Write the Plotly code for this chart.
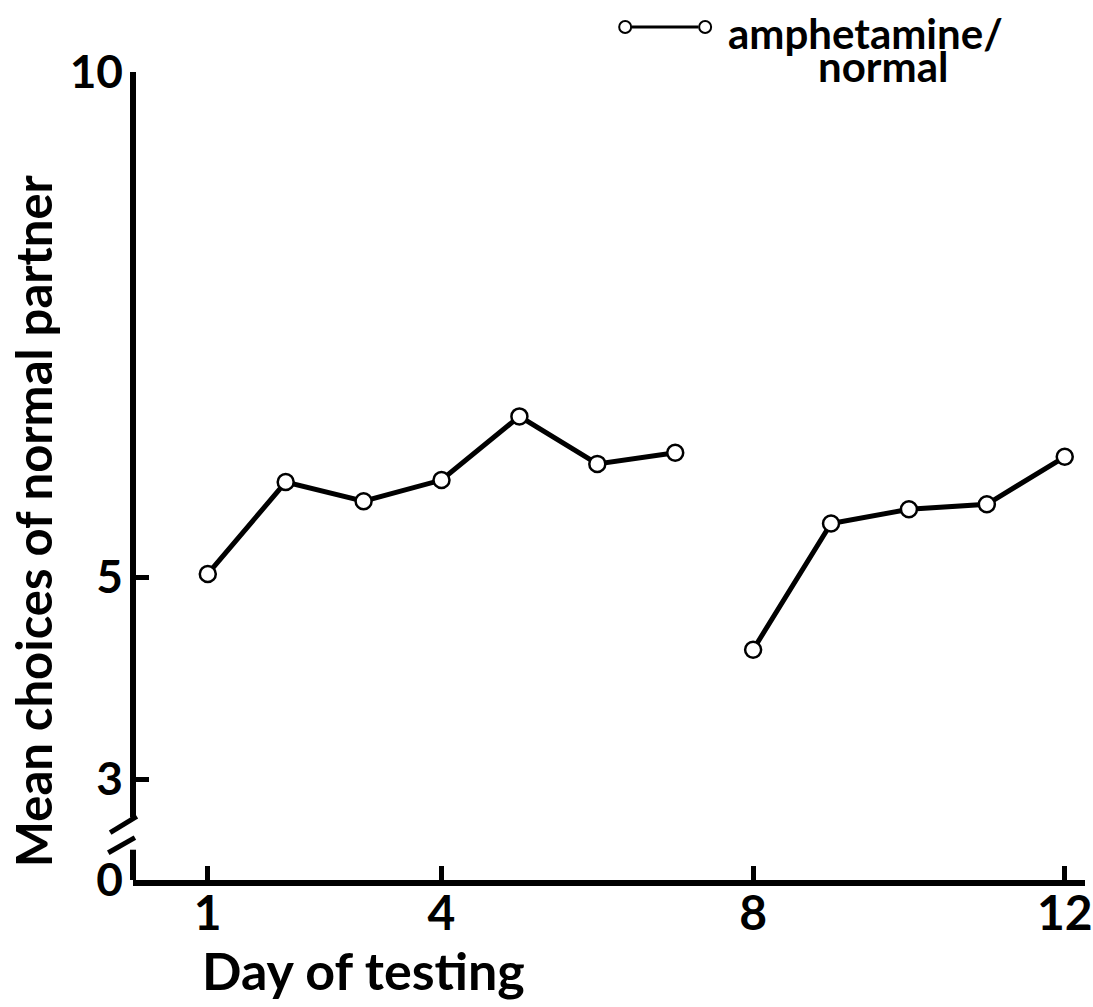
import plotly.graph_objects as go

# Day of testing and mean choices of normal partner
days_first = [1, 2, 3, 4, 5, 6, 7]
choices_first = [5.03, 5.94, 5.75, 5.96, 6.59, 6.12, 6.23]
days_second = [8, 9, 10, 11, 12]
choices_second = [4.28, 5.53, 5.67, 5.72, 6.19]

# broken y axis: 0 is drawn one unit below 3
ytick_pos = [2, 3, 5, 10]
ytick_text = ['0', '3', '5', '10']
xtick_vals = [1, 4, 8, 12]

FONT = 'Lato'

fig = go.Figure()
marker_style = dict(size=16, color='white', line=dict(color='black', width=2.5))
for xs, ys in [(days_first, choices_first), (days_second, choices_second)]:
    fig.add_trace(go.Scatter(x=xs, y=ys, mode='lines+markers',
                             line=dict(color='black', width=5),
                             marker=marker_style, cliponaxis=False,
                             showlegend=False, hoverinfo='x+y'))

fig.update_layout(
    width=1093, height=1007,
    margin=dict(l=133, r=8, t=72, b=127),
    plot_bgcolor='white', paper_bgcolor='white',
    font=dict(family=FONT, color='black', weight='bold'),
)
fig.update_xaxes(range=[0.04, 12.26], tickvals=xtick_vals, automargin=False,
                 showline=True, linecolor='black', linewidth=6,
                 ticks='inside', ticklen=14, tickwidth=5, tickcolor='black',
                 showgrid=False, zeroline=False, ticklabelstandoff=-14,
                 ticklabeloverflow='allow',
                 tickfont=dict(family=FONT, size=48, weight='bold'))
fig.update_yaxes(range=[2, 10], tickvals=ytick_pos, ticktext=ytick_text,
                 automargin=False, showline=False, ticks='inside', ticklen=16,
                 tickwidth=5, tickcolor='black', showgrid=False, zeroline=False,
                 ticklabelstandoff=9, ticklabeloverflow='allow',
                 tickfont=dict(family=FONT, size=46, weight='bold'))

# y axis line with a break between 0 and 3
axis_line = dict(color='black', width=6)
fig.add_shape(type='line', xref='paper', yref='y', x0=0, x1=0, y0=2.62, y1=10.03, line=axis_line)
fig.add_shape(type='line', xref='paper', yref='y', x0=0, x1=0, y0=1.97, y1=2.3, line=axis_line)
fig.add_shape(type='line', xref='paper', yref='y', x0=-0.024, x1=0.004, y0=2.47, y1=2.63, line=dict(color='black', width=5))
fig.add_shape(type='line', xref='paper', yref='y', x0=-0.026, x1=0.002, y0=2.27, y1=2.42, line=dict(color='black', width=5))

# axis titles
fig.add_annotation(text='Mean choices of normal partner', xref='paper', yref='paper',
                   x=-0.105, y=0.444, xanchor='center', yanchor='middle',
                   textangle=-90, showarrow=False, font=dict(size=49))
fig.add_annotation(text='Day of testing', xref='paper', yref='paper',
                   x=0.07, y=-0.111, xanchor='left', yanchor='middle',
                   showarrow=False, font=dict(size=52))

# legend key drawn by hand: o——o amphetamine/normal
fig.add_shape(type='line', xref='paper', yref='paper', x0=0.524, x1=0.594,
              y0=1.0557, y1=1.0557, line=dict(color='black', width=3))
for cx in [0.517, 0.601]:
    fig.add_shape(type='circle', xref='paper', yref='paper',
                  x0=cx - 0.0063, x1=cx + 0.0063, y0=1.0557 - 0.0074, y1=1.0557 + 0.0074,
                  fillcolor='white', line=dict(color='black', width=2))
fig.add_annotation(text='amphetamine/', xref='paper', yref='paper',
                   x=0.769, y=1.0483, xanchor='center', yanchor='middle',
                   showarrow=False, font=dict(size=42))
fig.add_annotation(text='normal', xref='paper', yref='paper',
                   x=0.788, y=1.0074, xanchor='center', yanchor='middle',
                   showarrow=False, font=dict(size=42))

# drop the default page margin so the figure fills the window exactly
fig.write_html("out.html", config={'displayModeBar': False},
               post_script="document.body.style.margin='0';document.body.style.overflow='hidden';")
